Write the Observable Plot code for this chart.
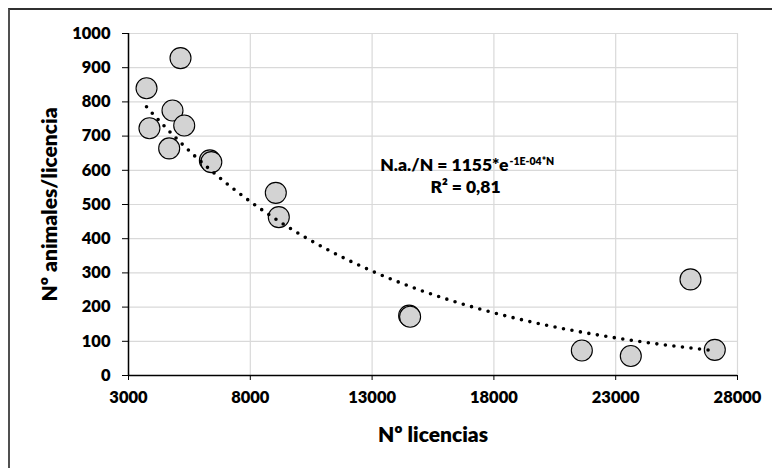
<!DOCTYPE html>
<html>
<head>
<meta charset="utf-8">
<script src="https://cdn.jsdelivr.net/npm/d3@7"></script>
<script src="https://cdn.jsdelivr.net/npm/@observablehq/plot@0.6"></script>
<style>
  html, body { margin: 0; padding: 0; background: #fff; }
  #wrap { position: relative; width: 772px; height: 468px; overflow: hidden; }
  #border { position: absolute; left: 8px; top: 8px; width: 900px; height: 600px;
            border-left: 2px solid #505050; border-top: 2px solid #303030; pointer-events: none; }
  #chart { position: absolute; left: 0; top: 0; }
</style>
</head>
<body>
<div id="wrap"><div id="chart"></div><div id="border"></div></div>
<script>
// Data
const licencias = [3740, 3860, 5135, 4806, 4670, 5287, 6340, 6400, 9047, 9170, 14520, 14560, 21610, 23620, 26070, 27068];
const animalesPorLicencia = [840, 723, 928, 775, 664, 731, 629, 624, 534, 463, 175, 172, 73, 57, 281, 75];
const xTicks = [3000, 8000, 13000, 18000, 23000, 28000];
const yTicks = [0, 100, 200, 300, 400, 500, 600, 700, 800, 900, 1000];
const equationText = "N.a./N = 1155*e";
const equationExponent = "-1E-04*N";
const r2Text = "R² = 0,81";

const points = licencias.map((x, i) => ({x, y: animalesPorLicencia[i]}));

// Exponential trend (least squares on ln y), as the spreadsheet does
const mx = d3.mean(points, d => d.x);
const my = d3.mean(points, d => Math.log(d.y));
const slope = d3.sum(points, d => (d.x - mx) * (Math.log(d.y) - my)) / d3.sum(points, d => (d.x - mx) ** 2);
const lnA = my - slope * mx;
const [xmin, xmax] = d3.extent(licencias);
const trend = d3.range(0, 301).map(i => {
  const x = xmin + (xmax - xmin) * i / 300;
  return {x, y: Math.exp(lnA + slope * x)};
});

const font = "Lato, 'Open Sans', sans-serif";
const W = 800;

const chart = Plot.plot({
  width: 772,
  height: 468,
  marginLeft: 128,
  marginRight: 35,
  marginTop: 33,
  marginBottom: 93,
  style: {fontFamily: font, background: "transparent", overflow: "visible"},
  x: {domain: [3000, 28000]},
  y: {domain: [0, 1000]},
  marks: [
    Plot.gridX(xTicks, {stroke: "#d9d9d9", strokeOpacity: 1, strokeWidth: 1.2}),
    Plot.gridY(yTicks, {stroke: "#d9d9d9", strokeOpacity: 1, strokeWidth: 1.2}),
    Plot.axisX(xTicks, {tickSize: 5, tickPadding: 11, tickFormat: d => String(d), fontSize: 16.5, fontWeight: W, fill: "#000", stroke: "#000", label: null}),
    Plot.axisY(yTicks, {tickSize: 6, tickPadding: 12, tickFormat: d => String(d), fontSize: 16.5, fontWeight: W, fill: "#000", stroke: "#000", label: null}),
    Plot.ruleY([0], {stroke: "#000", strokeWidth: 1.5}),
    Plot.ruleX([3000], {stroke: "#000", strokeWidth: 1.5}),
    Plot.dot(points, {x: "x", y: "y", r: 10.5, fill: "#d3d3d3", stroke: "#000", strokeWidth: 1.1}),
    Plot.line(trend, {x: "x", y: "y", stroke: "#000", strokeWidth: 3.6, strokeDasharray: "0 8.6", strokeLinecap: "round"}),
    Plot.text([equationText], {frameAnchor: "top-left", dx: 380, dy: 137, text: d => d, textAnchor: "end", lineAnchor: "bottom", fontSize: 17.5, fontWeight: W, fill: "#000"}),
    Plot.text([equationExponent], {frameAnchor: "top-left", dx: 381, dy: 131, text: d => d, textAnchor: "start", lineAnchor: "bottom", fontSize: 10.5, fontWeight: W, fill: "#000"}),
    Plot.text([r2Text], {frameAnchor: "top-left", dx: 337, dy: 159, text: d => d, textAnchor: "middle", lineAnchor: "bottom", fontSize: 17.5, fontWeight: W, fill: "#000"}),
    Plot.text(["Nº licencias"], {frameAnchor: "bottom", dy: 60, text: d => d, textAnchor: "middle", lineAnchor: "middle", fontSize: 21, fontWeight: W, fill: "#000"}),
    Plot.text(["Nº animales/licencia"], {frameAnchor: "left", dx: -78, text: d => d, rotate: -90, textAnchor: "middle", lineAnchor: "middle", fontSize: 21, fontWeight: W, fill: "#000"})
  ]
});
document.getElementById("chart").appendChild(chart);
</script>
</body>
</html>
